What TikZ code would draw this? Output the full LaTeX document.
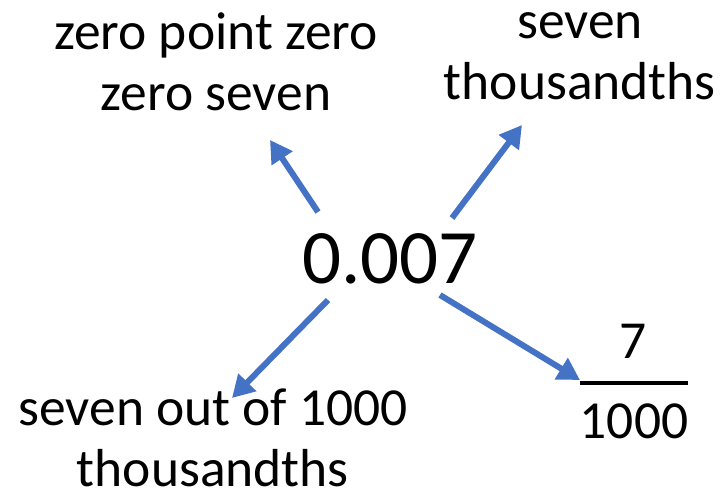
\documentclass[tikz,border=0pt]{standalone}
\usepackage{fontspec}
\setmainfont{Carlito}
\usetikzlibrary{arrows.meta}
\definecolor{arrowblue}{HTML}{4472C4}
\tikzset{
  arr/.style={-{Triangle[length=22pt, width=24pt]}, line width=6pt, draw=arrowblue},
  word/.style={font=\fontsize{53.5}{61}\selectfont, inner sep=0pt, align=center},
  bignum/.style={font=\fontsize{77}{90}\selectfont, inner sep=0pt},
  bar/.style={line width=3.5pt, draw=black},
}

\begin{document}
\begin{tikzpicture}[x=1pt, y=-1pt]
  \useasboundingbox (0,0) rectangle (724,499);
  % centre value
  \node[bignum, anchor=base] (num) at (390,283) {0.007};
  % the four readings (base = last line)
  \node[word, anchor=base] (zpz) at (216,110) {zero point zero\\zero seven};
  \node[word, anchor=base] (thou) at (580,99) {seven\\thousandths};
  \node[word, anchor=base] (outof) at (213,486) {seven out of 1000\\thousandths};
  \node[word, anchor=base] (top) at (633,358) {7};
  \node[word, anchor=base] (den) at (634,438) {1000};
  \draw[bar] ([yshift=20pt]den.north west) -- ([yshift=20pt]den.north east);
  % arrow ends
  \coordinate (s1) at (318,212); \coordinate (e1) at (270,140);
  \coordinate (s2) at (452,218); \coordinate (e2) at (522,125);
  \coordinate (s3) at (328,300); \coordinate (e3) at (232,398);
  \coordinate (s4) at (440,295); \coordinate (e4) at (580,380);
  \draw[arr] (s1) -- (e1);
  \draw[arr] (s2) -- (e2);
  \draw[arr] (s3) -- (e3);
  \draw[arr] (s4) -- (e4);
\end{tikzpicture}
\end{document}
